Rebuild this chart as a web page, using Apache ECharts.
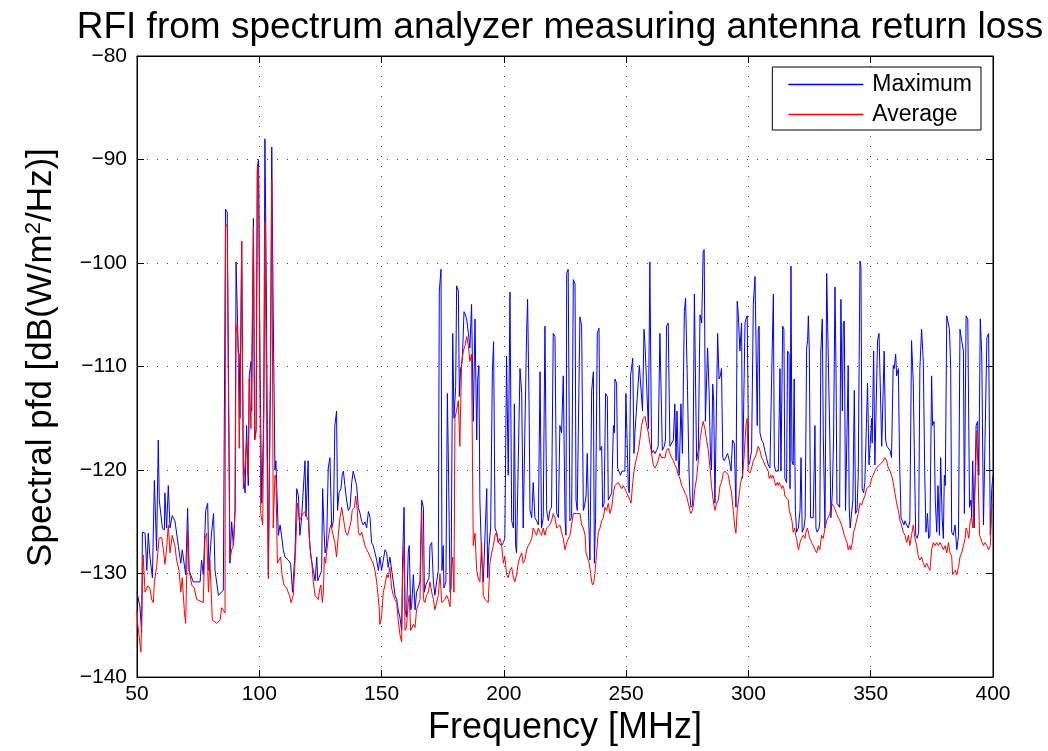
<!DOCTYPE html>
<html>
<head>
<meta charset="utf-8">
<script src="https://cdn.jsdelivr.net/npm/echarts@6/dist/echarts.min.js"></script>
<style>html,body{margin:0;padding:0;background:#fff}#c{width:1048px;height:751px}</style>
</head>
<body>
<div id="c"></div>
<script>
const titleText = 'RFI from spectrum analyzer measuring antenna return loss';
const xAxisName = 'Frequency [MHz]';
const seriesNames = ['Maximum', 'Average'];
const xTicks = [50, 100, 150, 200, 250, 300, 350, 400];
const yTicks = [-140, -130, -120, -110, -100, -90, -80];

const maxFreq = [50.0,51.2,51.9,52.2,53.3,54.0,54.6,55.3,56.3,57.1,58.0,58.7,59.1,60.4,61.2,61.4,62.1,62.8,63.5,64.4,65.5,66.9,67.9,68.5,69.9,70.7,71.3,73.0,75.8,76.4,77.1,78.1,78.9,79.4,80.5,81.3,81.9,83.3,85.3,86.0,
86.2,86.9,88.0,88.7,89.4,90.1,90.5,91.0,91.4,91.8,92.1,92.8,93.5,94.2,94.8,95.5,95.9,96.6,96.9,97.6,98.1,98.7,99.2,99.7,100.3,101.0,101.8,102.3,102.8,103.7,104.6,105.1,105.7,106.4,106.8,107.4,107.8,108.5,109.1,109.8,110.5,111.9,112.8,113.6,114.6,115.3,116.0,116.6,117.3,118.0,118.7,119.1,119.6,120.0,120.3,
121.1,122.1,122.8,123.5,123.9,124.4,124.8,125.5,125.9,126.5,126.9,127.5,128.2,128.9,129.6,130.3,130.9,131.6,132.0,132.6,133.4,133.9,134.4,135.0,135.7,136.4,137.1,137.8,138.4,139.1,139.8,140.5,141.2,141.9,142.5,143.2,143.9,144.6,145.3,145.9,146.6,147.3,148.0,148.7,149.3,150.0,150.7,151.4,152.1,152.7,153.4,154.1,
154.8,155.5,156.2,156.8,157.5,158.2,158.6,159.2,159.6,160.2,160.9,161.3,161.9,162.3,163.0,163.7,164.3,165.0,165.7,166.4,167.1,167.5,168.1,168.7,169.4,169.8,170.5,171.2,171.8,172.5,173.2,173.6,174.3,174.7,175.2,175.5,176.3,176.9,177.4,178.0,178.4,179.1,179.6,180.3,180.7,181.4,181.8,182.3,182.7,183.1,183.7,184.1,184.8,185.5,186.1,186.8,187.5,188.2,188.9,
189.3,189.8,190.2,190.9,191.6,192.3,193.0,193.4,193.9,194.6,195.3,195.8,196.4,197.0,197.7,198.4,199.1,199.8,200.4,201.1,201.8,202.5,203.2,203.9,204.3,204.8,205.2,205.9,206.6,207.3,207.9,208.6,209.3,209.7,210.3,210.7,211.4,212.0,212.7,213.4,214.1,214.8,215.4,216.1,216.8,217.5,218.2,218.8,219.5,220.2,220.9,221.6,222.3,222.9,223.6,224.3,
225.0,225.4,225.7,226.3,227.0,227.7,228.4,229.1,229.5,230.0,230.7,231.1,231.8,232.5,232.9,233.6,234.1,234.7,235.2,235.9,236.6,237.0,237.5,238.2,238.9,239.3,240.0,240.4,241.0,241.6,242.3,242.7,243.4,244.1,244.8,245.2,245.4,246.1,246.5,247.2,247.7,248.3,248.8,249.5,249.9,250.5,250.9,251.3,251.8,252.7,253.2,253.6,254.3,255.4,255.9,256.7,257.3,257.7,258.4,259.1,
259.7,260.1,260.4,261.1,261.8,262.5,263.1,263.8,264.2,264.8,265.6,266.1,266.5,267.2,267.9,268.6,269.3,269.9,270.4,270.8,271.3,271.7,272.4,273.0,273.8,274.3,275.1,275.7,276.1,276.5,277.2,277.9,278.4,278.8,279.5,280.2,280.9,281.5,281.9,282.4,282.9,283.3,283.9,284.5,284.9,285.4,285.8,286.3,286.7,287.4,288.0,288.5,289.0,289.5,290.1,290.8,291.5,292.2,292.9,293.5,294.2,
294.9,295.4,295.8,296.5,297.2,297.6,298.2,298.6,299.0,299.5,300.1,300.6,301.3,302.0,302.7,303.1,303.6,304.0,304.4,304.7,305.4,306.1,306.7,307.4,308.1,308.8,309.5,310.2,310.6,311.1,311.8,312.2,312.9,313.3,314.0,314.5,314.9,315.6,316.0,316.6,317.0,317.4,317.8,318.3,318.7,319.2,319.7,320.4,321.1,321.5,322.0,322.7,323.2,323.8,324.2,324.5,324.9,325.4,326.0,326.5,327.2,327.6,328.1,328.9,
329.2,329.6,330.2,330.6,331.3,332.0,332.4,332.9,333.3,333.7,334.3,334.8,335.4,335.8,336.2,336.7,337.3,337.8,338.4,338.8,339.2,339.7,340.3,340.8,341.2,341.6,342.2,342.7,343.3,343.8,344.4,344.9,345.6,346.0,346.5,347.1,347.6,348.3,348.7,349.3,349.8,350.4,350.6,351.2,351.7,352.4,352.8,353.4,353.9,354.5,355.0,355.5,356.1,356.6,357.2,357.9,358.5,359.2,359.6,360.2,360.6,361.3,361.8,
362.4,362.9,363.6,364.0,364.7,365.4,366.0,366.7,367.4,367.8,368.4,369.0,369.6,370.1,370.8,371.5,372.1,372.6,373.2,373.7,374.2,374.9,375.3,375.9,376.4,377.0,377.5,378.1,378.6,379.2,379.7,380.1,380.5,381.1,381.5,382.2,382.7,383.1,383.8,384.5,385.2,385.9,386.5,387.2,387.9,388.3,389.0,389.7,390.4,391.0,391.3,391.7,392.3,393.1,393.7,394.2,394.8,395.4,396.1,396.8,397.5,398.2,398.9,399.5,400.0];

const maxDb = [-131.8,-133.2,-135.7,-126,-126.1,-129.7,-126.1,-128.4,-130.4,-121,-127.8,-117.1,-122.9,-125.6,-125.8,-122.2,-125.6,-121.5,-125.6,-124.4,-124.9,-127.3,-129,-127.7,-130.1,-123.7,-129.7,-130.8,-130.8,-128.7,-130.1,-123.9,-123.2,-129.7,-126,-124.2,-129.7,-132.1,-131.6,-131.5,
-94.8,-95.1,-129,-125,-127.3,-123.9,-99.9,-99.9,-108.5,-108.8,-115,-97.9,-120.5,-122.2,-115.7,-121.5,-110.9,-109.5,-114.3,-95.7,-117.1,-116,-90.7,-90,-110,-123.2,-115,-88,-100,-129.7,-110,-88.8,-105,-120,-119.1,-119.1,-126.3,-125.3,-126.3,-127.7,-128.4,-128.7,-129,-131.8,-128,-121.8,-122.5,-126.3,-124.6,-124.6,-119.1,-124.5,-124.5,-119.1,-126,
-128.4,-129.7,-130.7,-128.4,-130.7,-130.4,-130.4,-129.7,-121.8,-126,-128,-127.3,-119.8,-118.8,-125.6,-124.9,-115.7,-114.3,-123.9,-122.2,-121.8,-120.5,-120.1,-121.5,-122.9,-123.9,-123.6,-121.2,-120.1,-120,-121.5,-123.6,-124.2,-125,-125.3,-125,-125.6,-124,-124.6,-127,-127.3,-127.3,-128.7,-129.7,-128.4,-129.7,-128.7,-127.7,-128,-129.4,-128.4,-128.4,
-130.8,-132.1,-132.5,-133.5,-134.2,-135.5,-128.7,-123.6,-133.5,-134.2,-128,-127.3,-133.5,-133.2,-130.1,-133.5,-131.8,-131.4,-130.8,-122.9,-123.6,-131.8,-131.1,-131.1,-130.4,-127.3,-127,-130.8,-132.1,-130.8,-129.7,-102.7,-100.6,-129.7,-127.3,-131.4,-130.8,-112.6,-120.5,-131.8,-131.4,-106.8,-115,-111.9,-102.2,-102.7,-112.9,-110.2,-109.9,-108.8,-104.7,-104.9,-105.4,-106.8,-108.2,-104,-115.3,-105.4,-117.1,
-111.2,-109.9,-122.9,-128.4,-130.8,-130.8,-121.8,-130.4,-127.3,-125.6,-110.5,-107.6,-125.6,-126,-127,-127,-127.3,-127,-126.6,-109,-120.5,-102.8,-124.9,-125.6,-113.6,-127.3,-128,-128,-110.2,-112.6,-125.6,-125.6,-106.8,-103.5,-113.6,-123.9,-124.6,-121.2,-124.6,-124.9,-125.3,-110.5,-125.6,-124.6,-106.1,-123.9,-124.9,-123.9,-123.6,-106.8,-107.1,-124.2,-124.6,-115.7,-116.4,-110.9,
-124.6,-126.3,-101,-100.6,-124.9,-124.6,-101.6,-102,-122.9,-123.9,-123.9,-105.2,-106.1,-123.9,-123.6,-122.5,-118.4,-124.9,-128.7,-112.3,-110.5,-129,-124.6,-106.8,-106.3,-118.1,-117.7,-123.6,-123.2,-112.6,-112.9,-122.9,-122.9,-122.2,-115.7,-116.4,-111.2,-111.6,-119.8,-119.8,-120.5,-120.1,-120.1,-120.1,-112.6,-112.6,-121.8,-122.2,-110.9,-109.2,-118.4,-116.4,-116.4,-109.9,-109.9,-114.3,-106.4,-107.8,-107.8,-116,
-99.9,-99.9,-118.4,-118.1,-118.4,-118.1,-117.7,-106.8,-106.8,-118.1,-117.7,-117.1,-106.1,-105.8,-117.7,-117.7,-117.1,-113.6,-119.1,-114.3,-119.1,-120.5,-113.6,-118.4,-104.7,-103.4,-112.3,-120.1,-122.5,-123.6,-123.4,-103,-103,-119.1,-118.1,-105,-105.8,-98.9,-98.7,-115.3,-115.3,-108.2,-112.3,-118.8,-120,-111.7,-113.3,-123.2,-123.2,-106.8,-111.2,-110.9,-110.2,-118.8,-119.1,-119.1,-118.4,-119.1,-120.1,-117.1,-117.4,
-123.6,-103.7,-104.7,-108.5,-105.8,-120.8,-120.8,-105.8,-105.4,-105.1,-119.5,-119.1,-118.1,-104,-101.3,-101.3,-115.7,-106.4,-106.1,-116.4,-117.1,-117.4,-118.1,-118.8,-119.5,-119.8,-110.9,-103,-119.5,-120.1,-120.1,-120.1,-110.2,-120.1,-106.1,-106.4,-120.8,-121.2,-108.5,-108.8,-121.8,-100.3,-119.1,-119.5,-111.2,-123.9,-126,-125.6,-123.9,-118.8,-126,-125.6,-124.6,-108.2,-107.5,-105.1,-108.5,-124.6,-124.6,-124.6,-115.7,-125.6,-126,-125.6,
-124.9,-108.5,-105.4,-116.7,-125.6,-101,-106.1,-106.1,-117.1,-124.6,-122.2,-117.1,-102.3,-110.2,-123.2,-123.2,-123.6,-103.5,-114.3,-105.8,-105.6,-123.9,-123.9,-109.9,-123.6,-125.6,-125.6,-122.9,-112.3,-124.2,-123.9,-120.5,-99.8,-100.3,-121.8,-122.2,-121.2,-121.2,-111.6,-119.5,-117.4,-115,-117.4,-108.5,-119.5,-119.5,-107.5,-106.8,-106.8,-117.7,-117.7,-108.5,-117.1,-117.7,-117.7,-118.1,-118.8,-109.9,-110.2,-108.8,-110.9,-110.2,-119.1,
-124.6,-124.9,-125.3,-124.9,-125.3,-125.6,-124.9,-107.5,-111.6,-117.7,-126.3,-126.6,-126,-110.2,-106.4,-109.5,-120.5,-126,-124.2,-126.6,-126.3,-110.9,-115.7,-115.3,-122.9,-126,-121.5,-126.3,-118.8,-124.6,-126.6,-120.5,-121.5,-105.1,-105.2,-106.4,-110.2,-126,-126.3,-125.3,-127.7,-126.3,-106.4,-107.5,-108.5,-124.2,-105.1,-105.4,-123.6,-122.9,-124.6,-119.1,-125.6,-115.7,-115.3,-120.5,-105.4,-108.8,-125.3,-125.3,-107.2,-106.8,-126.3,-121.8,-120.5];

const avgFreq = [50.0,50.3,51.6,52.5,53.3,54.4,55.3,56.0,56.7,57.1,58.0,59.0,60.1,60.8,61.4,62.1,62.8,63.5,64.4,65.5,66.2,67.2,67.9,68.5,69.4,69.9,70.7,71.3,72.4,73.4,74.4,77.1,77.8,78.5,79.2,79.8,80.8,82.6,84.0,84.6,86.0,
86.2,86.9,87.3,88.0,88.7,89.4,90.1,90.5,91.0,91.4,91.8,92.4,92.8,93.5,94.2,94.8,95.5,95.9,96.6,97.6,98.1,98.7,99.2,99.7,100.6,101.4,102.0,102.3,103.0,103.7,104.6,105.1,105.7,106.4,106.8,107.4,108.2,108.7,109.3,110.1,111.2,112.3,113.0,113.9,114.6,115.6,116.4,117.0,118.0,118.7,119.4,120.2,
120.7,121.4,122.1,122.8,123.5,124.1,124.8,125.2,125.8,126.2,126.6,127.1,127.5,128.2,128.9,129.3,129.9,130.3,130.9,131.6,132.3,133.0,133.7,134.1,134.8,135.3,136.1,136.8,137.5,138.0,138.9,139.4,140.1,140.5,141.2,141.9,142.5,143.2,143.9,144.6,145.3,145.9,146.6,147.3,148.0,148.4,149.0,149.3,150.0,150.7,151.4,152.1,152.7,153.4,
154.1,154.8,155.5,156.2,156.8,157.5,158.2,158.6,159.2,159.6,160.2,160.9,161.3,161.9,162.3,163.0,163.7,164.3,165.0,165.7,166.4,167.1,167.7,168.4,169.1,169.8,170.5,171.2,171.8,172.5,173.2,173.9,174.3,174.6,175.2,175.9,176.6,177.3,178.0,178.4,179.1,179.6,180.0,180.7,181.4,182.0,182.7,183.4,184.1,184.8,185.5,186.1,186.8,187.2,187.5,
188.2,188.9,189.5,190.2,190.9,191.6,192.3,193.0,193.6,194.3,195.0,195.7,196.4,197.0,197.7,198.4,199.1,199.8,200.4,201.1,201.8,202.5,203.2,203.9,204.5,205.2,205.9,206.6,207.3,207.9,208.6,209.3,210.0,210.7,211.4,212.0,212.7,213.4,214.1,214.8,215.4,216.1,216.8,217.5,218.2,218.8,219.5,220.2,220.9,221.6,222.3,222.9,223.6,224.3,
225.0,225.7,226.3,227.0,227.7,228.4,229.1,229.8,230.4,231.1,231.8,232.5,233.2,233.6,234.1,234.5,234.9,235.5,235.9,236.3,236.8,237.2,237.7,238.0,238.6,239.3,240.0,240.7,241.3,242.0,242.7,243.4,244.1,244.8,245.4,246.1,246.8,247.5,248.2,248.8,249.5,250.2,250.9,251.6,252.0,252.7,253.2,254.0,255.0,255.6,256.3,257.0,257.7,258.4,259.1,
259.7,260.4,261.1,261.8,262.5,263.1,263.8,264.5,265.2,265.9,266.5,267.2,267.9,268.6,269.3,269.9,270.6,271.3,272.0,272.7,273.4,274.0,274.7,275.4,276.1,276.5,277.1,277.6,278.1,278.8,279.5,280.2,280.9,281.5,282.2,282.9,283.6,284.3,284.9,285.6,286.3,287.0,287.7,288.4,289.0,289.7,290.4,291.1,291.8,292.5,293.1,293.8,294.5,
294.9,295.4,296.3,296.8,297.6,298.2,298.6,299.0,299.5,299.9,300.6,301.3,302.0,302.7,303.3,304.0,304.7,305.4,306.1,306.7,307.4,308.1,308.5,309.1,309.5,309.9,310.4,310.8,311.2,311.8,312.2,312.6,313.2,313.6,314.0,314.5,314.9,315.6,316.3,316.7,317.2,317.8,318.3,318.9,319.3,319.7,320.1,320.5,321.1,321.7,322.4,323.1,323.5,324.1,324.6,325.1,325.8,326.5,327.2,327.9,328.6,
329.2,329.9,330.6,331.3,332.0,332.6,333.3,334.0,334.7,335.1,335.6,336.0,336.7,337.4,338.1,338.8,339.2,339.7,340.3,340.8,341.4,341.9,342.5,343.0,343.5,344.2,344.9,345.6,346.3,346.9,347.6,348.3,349.0,349.7,350.4,351.0,351.7,352.4,353.1,353.8,354.5,355.1,355.8,356.5,357.2,357.9,358.5,359.2,359.9,360.6,361.3,362.0,362.6,363.3,
364.0,364.7,365.4,366.0,366.7,367.4,368.1,368.8,369.5,370.1,370.8,371.5,372.2,372.9,373.6,374.2,374.9,375.6,376.3,377.0,377.7,378.3,379.0,379.7,380.4,381.1,381.8,382.4,383.1,383.5,384.1,384.6,385.2,385.9,386.5,387.2,387.9,388.6,389.0,389.6,390.1,390.7,391.2,391.8,392.3,392.8,393.4,393.9,394.5,395.0,395.6,396.1,396.8,397.5,398.2,398.9,399.5,400.0];

const avgDb = [-133.5,-134.9,-137.6,-128.2,-131.8,-131.2,-131.4,-132.5,-132.8,-130.8,-129.4,-126.6,-126.5,-127.7,-129.1,-127.6,-125.3,-128,-126.3,-127.3,-128.7,-129.7,-131.8,-130.4,-133.8,-134.8,-125.8,-129.7,-131.1,-131.4,-132.5,-132.8,-126.6,-126.1,-131.8,-128.7,-134.5,-134.8,-134.5,-133.3,-133.8,
-96.2,-96.5,-110,-128.7,-127.7,-127.3,-123.9,-106.8,-105.8,-108.8,-117.9,-110,-97.9,-121.8,-121.8,-117.1,-120.5,-111.2,-116,-96.5,-117.1,-116.3,-91,-90.7,-124.2,-125.3,-110,-96,-115,-130.5,-110,-92,-125.6,-120.5,-120.8,-129,-129,-128.4,-130.1,-131.1,-131.4,-132.1,-132.8,-132.1,-129,-123.2,-124.9,-124.6,-124.2,-124,-124.5,-125,
-127.5,-128.7,-130.8,-132.1,-132.1,-132.5,-131.4,-131.1,-132.8,-131.8,-128.4,-129,-128,-126.6,-125.6,-125.3,-126,-126,-127,-128.4,-126.3,-124.6,-123.6,-123.6,-125.3,-126,-126.3,-126.3,-125,-123.9,-123.6,-122.5,-123.9,-126,-126.3,-126,-126.6,-127.3,-127.7,-128,-128.4,-128.7,-129,-129.7,-130.8,-131.8,-133.2,-134.9,-134.2,-131.8,-131.1,-130.1,-130.4,-129.4,
-131.4,-132.1,-132.5,-132.8,-134.5,-135.9,-136.6,-130.4,-127.3,-135.5,-135.2,-132.8,-132.1,-135.5,-135.5,-134.9,-135.2,-133.5,-133.5,-132.5,-123.9,-132.5,-132.8,-132.1,-131.8,-130.8,-131.8,-132.5,-133.5,-132.8,-132.1,-130,-130,-132.8,-132.8,-132.5,-132.1,-132.5,-133.2,-130.4,-128.4,-131.8,-115,-115,-113.3,-117.7,-109.9,-108.5,-108,-107.1,-108,-109.5,-108.8,-120,-127.3,
-126.1,-129.7,-130.4,-130.8,-127,-132.1,-132.5,-132.5,-132.8,-129,-128,-127.3,-126.3,-126,-127,-126.6,-127.3,-129,-128.4,-130.1,-130.4,-129.7,-129.4,-130.4,-130.8,-130.1,-129,-128.4,-128,-129,-128.7,-127.7,-127.3,-127,-126.6,-125.6,-125.6,-126.3,-125.6,-126,-126.3,-125.6,-126.3,-125.6,-125.6,-125.3,-124.9,-124.2,-124.6,-125.6,-125.6,-125.3,-126,-126.6,
-127.7,-127,-127,-126.3,-125.3,-124.2,-124.2,-124.2,-124.2,-124.2,-125.3,-125.6,-126.3,-128,-128.4,-128.7,-129,-130,-130.8,-131.1,-130.8,-130,-128.7,-127.7,-126,-125.6,-124.9,-124.6,-123.6,-123.9,-123.2,-124.2,-123.6,-122.2,-121.5,-121.5,-121.2,-121.5,-121.8,-121.5,-121.8,-122.2,-122.2,-122.9,-123.2,-121.2,-120.1,-119.1,-118.1,-117.1,-115.7,-115,-114.8,-115.7,-116.4,
-117.4,-118.4,-119.5,-119.8,-119.5,-119.1,-118.4,-118.8,-118.8,-118.8,-118.1,-117.9,-118.4,-118.8,-119.1,-119.5,-119.8,-120.5,-120.8,-121.5,-121.8,-122.2,-122.5,-123.2,-123.9,-124.2,-123.9,-123.2,-121.8,-120.8,-119.1,-117.1,-116,-115.3,-116,-117.1,-118.1,-119.8,-121.5,-122.9,-123.9,-123.2,-122.9,-121.5,-121.2,-120.3,-120.1,-120.1,-120.5,-121.5,-122.2,-123.9,-125.6,
-126.1,-123.9,-122.2,-121.2,-120.5,-118.8,-117.1,-115.7,-115,-120.1,-120.3,-119.8,-119.1,-118.8,-118.4,-117.7,-118.1,-118.8,-119.1,-119.5,-119.8,-120.1,-120.8,-120.5,-120.8,-120.5,-120.8,-121.2,-121.5,-121.2,-121.5,-121.2,-121.5,-121.8,-121.5,-121.8,-122.5,-122.5,-122.9,-123.9,-123.9,-124.9,-126,-125.6,-126.3,-126.6,-127.3,-127.7,-127,-126.6,-126.3,-126.6,-126,-125.6,-126.1,-126.6,-127,-127.3,-127.7,-128,-127.3,
-127.7,-126.3,-126.6,-125.6,-124.9,-124.6,-124.2,-123.2,-123.2,-123.6,-123.9,-124.2,-124.6,-124.9,-125.3,-125.3,-126.3,-126.6,-127,-127.7,-127.3,-127.7,-127,-126,-125.6,-125.6,-124.2,-123.2,-123.4,-122.9,-122.5,-121.8,-121.8,-121.5,-120.8,-120.5,-120.1,-119.8,-119.6,-119.5,-119.3,-119.1,-118.8,-119.1,-119.8,-120.1,-120.5,-121.2,-122.2,-123.2,-123.9,-124.9,-125.3,-126,
-126.3,-127,-126.3,-127.3,-126.3,-125.3,-126.6,-127.3,-128.4,-128.7,-128.4,-129,-129.4,-129,-129.4,-129.7,-127.7,-127,-127.3,-127,-127.3,-127,-127.3,-127.7,-127.3,-128,-127,-128,-128.3,-130.1,-130.1,-129.7,-130.1,-129.4,-128.4,-128,-127.3,-126.6,-125.6,-126,-126.6,-124.9,-124.6,-125.6,-125.6,-120.5,-116.2,-120.5,-126.3,-126.6,-127,-127.3,-127,-127.3,-127.7,-127.3,-123.6,-123.2];

function zip(xs, ys) { return xs.map((x, i) => [x, ys[i]]); }
const fmtNeg = v => (v < 0 ? '\u2212' : '') + Math.abs(v);
const FONT = "'Liberation Sans', Arial, Helvetica, sans-serif";

const chart = echarts.init(document.getElementById('c'), null, {renderer: 'canvas'});
const gridLine = {show: true, lineStyle: {color: '#444', type: [1, 9], width: 1}};
const option = {
  animation: false,
  backgroundColor: '#ffffff',
  graphic: [{
    type: 'text', x: 560, y: 28,
    style: {text: titleText, font: '37px ' + FONT, fill: '#000', textAlign: 'center', textVerticalAlign: 'middle'}
  }],
  grid: {left: 137, right: 55, top: 56, bottom: 68, show: true, borderColor: '#000', borderWidth: 1, backgroundColor: '#fff'},
  legend: {
    orient: 'vertical', right: 67, top: 67,
    data: seriesNames.map(n => ({name: n, icon: 'rect'})),
    itemWidth: 75, itemHeight: 1.3, itemGap: 7,
    padding: [6, 9, 4, 16],
    borderColor: '#000', borderWidth: 1, backgroundColor: '#fff',
    textStyle: {fontFamily: FONT, fontSize: 23, color: '#000', padding: [0, 0, 0, 4]}
  },
  xAxis: [{
    type: 'value', min: 50, max: 400, interval: 50,
    name: xAxisName, nameLocation: 'middle', nameGap: 24,
    nameTextStyle: {fontFamily: FONT, fontSize: 36, color: '#000'},
    axisLine: {show: true, onZero: false, lineStyle: {color: '#000'}},
    axisTick: {show: true, inside: true, length: 7, lineStyle: {color: '#000'}},
    axisLabel: {fontFamily: FONT, fontSize: 21, color: '#000', margin: 7},
    splitLine: gridLine
  }, {
    type: 'value', min: 50, max: 400, interval: 50, position: 'top',
    axisLine: {show: true, onZero: false, lineStyle: {color: '#000'}},
    axisTick: {show: true, inside: true, length: 7, lineStyle: {color: '#000'}},
    axisLabel: {show: false}, splitLine: {show: false}
  }],
  yAxis: [{
    type: 'value', min: -140, max: -80, interval: 10,
    name: '{a|Spectral pfd [dB(W/m}{s|2}{a|/Hz)]}', nameLocation: 'middle', nameGap: 78, nameRotate: 90,
    nameTextStyle: {
      padding: [0, 0, 0, 18],
      rich: {
        a: {fontFamily: FONT, fontSize: 35, color: '#000'},
        s: {fontFamily: FONT, fontSize: 22, color: '#000', verticalAlign: 'top', padding: [0, 0, 14, 0]}
      }
    },
    axisLine: {show: true, onZero: false, lineStyle: {color: '#000'}},
    axisTick: {show: true, inside: true, length: 7, lineStyle: {color: '#000'}},
    axisLabel: {fontFamily: FONT, fontSize: 21, color: '#000', margin: 10, formatter: fmtNeg},
    splitLine: gridLine
  }, {
    type: 'value', min: -140, max: -80, interval: 10, position: 'right',
    axisLine: {show: true, onZero: false, lineStyle: {color: '#000'}},
    axisTick: {show: true, inside: true, length: 7, lineStyle: {color: '#000'}},
    axisLabel: {show: false}, splitLine: {show: false}
  }],
  series: [{
    name: seriesNames[0], type: 'line', data: zip(maxFreq, maxDb),
    symbol: 'none', lineStyle: {color: '#0000ff', width: 1}, itemStyle: {color: '#0000ff'}, z: 2
  }, {
    name: seriesNames[1], type: 'line', data: zip(avgFreq, avgDb),
    symbol: 'none', lineStyle: {color: '#ff0000', width: 1}, itemStyle: {color: '#ff0000'}, z: 3
  }]
};
chart.setOption(option);
</script>
</body>
</html>
